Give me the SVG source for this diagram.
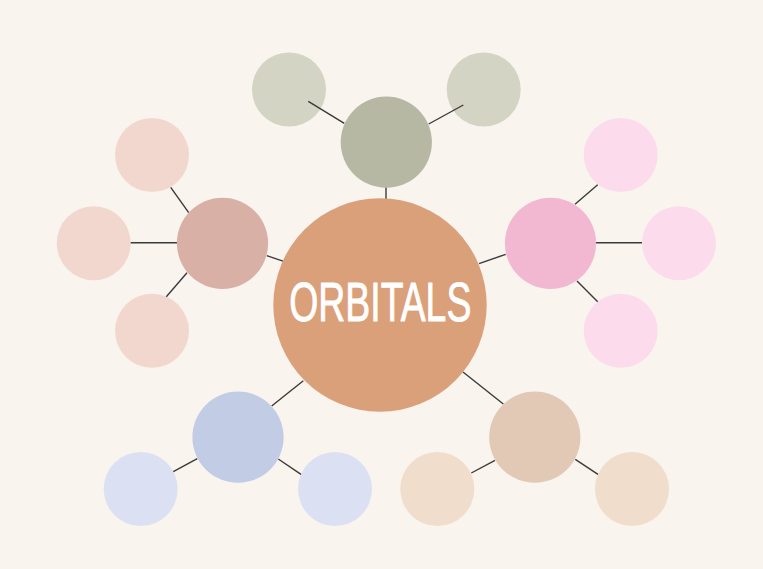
<svg xmlns="http://www.w3.org/2000/svg" width="763" height="569" viewBox="0 0 763 569">
<style>
.bg{fill:#f9f4ee}
.ln{stroke:#3a3a3a;stroke-width:1.4;fill:none}
.t-h{fill:#b6b8a4}.t-l{fill:#d3d4c3}
.l-h{fill:#d8b0a6}.l-l{fill:#f2d7cf}
.r-h{fill:#f2b8d1}.r-l{fill:#fcdcec}
.bl-h{fill:#c2cce4}.bl-l{fill:#dbe1f3}
.br-h{fill:#e2c9b6}.br-l{fill:#f1ddcb}
.title{font-family:"Liberation Sans",Arial,sans-serif;font-size:55px;fill:#ffffff;stroke:#ffffff;stroke-width:0.9;stroke-linejoin:round;text-anchor:middle}
</style>
<rect class="bg" x="0" y="0" width="763" height="569"/>
<g id="leaves">
<g id="top-leaf-1"><circle class="t-l" cx="289" cy="89.5" r="37"/></g>
<g id="top-leaf-2"><circle class="t-l" cx="483.7" cy="89.5" r="37"/></g>
<g id="left-leaf-1"><circle class="l-l" cx="152" cy="155" r="37"/></g>
<g id="left-leaf-2"><circle class="l-l" cx="93.7" cy="243.2" r="37"/></g>
<g id="left-leaf-3"><circle class="l-l" cx="152" cy="330.8" r="37"/></g>
<g id="right-leaf-1"><circle class="r-l" cx="620.7" cy="155" r="37"/></g>
<g id="right-leaf-2"><circle class="r-l" cx="679" cy="243.2" r="37"/></g>
<g id="right-leaf-3"><circle class="r-l" cx="620.7" cy="330.8" r="37"/></g>
<g id="bl-leaf-1"><circle class="bl-l" cx="140.7" cy="489" r="37"/></g>
<g id="bl-leaf-2"><circle class="bl-l" cx="335" cy="489" r="37"/></g>
<g id="br-leaf-1"><circle class="br-l" cx="437.3" cy="489" r="37"/></g>
<g id="br-leaf-2"><circle class="br-l" cx="632" cy="489" r="37"/></g>
</g>
<g id="connectors">
<line class="ln" x1="308.3" y1="101.3" x2="344.3" y2="123.3"/>
<line class="ln" x1="463.3" y1="105" x2="428.7" y2="124"/>
<line class="ln" x1="386" y1="187" x2="386" y2="199"/>
<line class="ln" x1="170.7" y1="187.3" x2="188.7" y2="212.7"/>
<line class="ln" x1="130.7" y1="242.7" x2="178" y2="242.7"/>
<line class="ln" x1="166.3" y1="296.7" x2="187" y2="272.7"/>
<line class="ln" x1="266.7" y1="255.7" x2="283" y2="261.2"/>
<line class="ln" x1="575" y1="204.3" x2="597.7" y2="184.7"/>
<line class="ln" x1="596" y1="242.7" x2="642" y2="242.7"/>
<line class="ln" x1="577" y1="281" x2="597.7" y2="301.7"/>
<line class="ln" x1="479" y1="263.7" x2="505.7" y2="254.3"/>
<line class="ln" x1="303.3" y1="380.7" x2="271.7" y2="406"/>
<line class="ln" x1="173.3" y1="471.7" x2="197.3" y2="458.7"/>
<line class="ln" x1="278.3" y1="459" x2="301" y2="474.3"/>
<line class="ln" x1="463" y1="372" x2="503.3" y2="404"/>
<line class="ln" x1="471.3" y1="473" x2="495" y2="460.3"/>
<line class="ln" x1="575.3" y1="459.3" x2="598" y2="474.3"/>
</g>
<g id="hubs">
<g id="top-hub"><circle class="t-h" cx="386.3" cy="142.2" r="45.6"/></g>
<g id="left-hub"><circle class="l-h" cx="222.5" cy="243.3" r="45.6"/></g>
<g id="right-hub"><circle class="r-h" cx="550.5" cy="243.3" r="45.6"/></g>
<g id="bl-hub"><circle class="bl-h" cx="238" cy="437.2" r="45.6"/></g>
<g id="br-hub"><circle class="br-h" cx="534.8" cy="437.2" r="45.6"/></g>
</g>
<g id="center">
<circle cx="380" cy="305" r="106.7" fill="#daa07a"/>
<text class="title" x="380.3" y="320.5" textLength="182" lengthAdjust="spacingAndGlyphs">ORBITALS</text>
</g>
</svg>
